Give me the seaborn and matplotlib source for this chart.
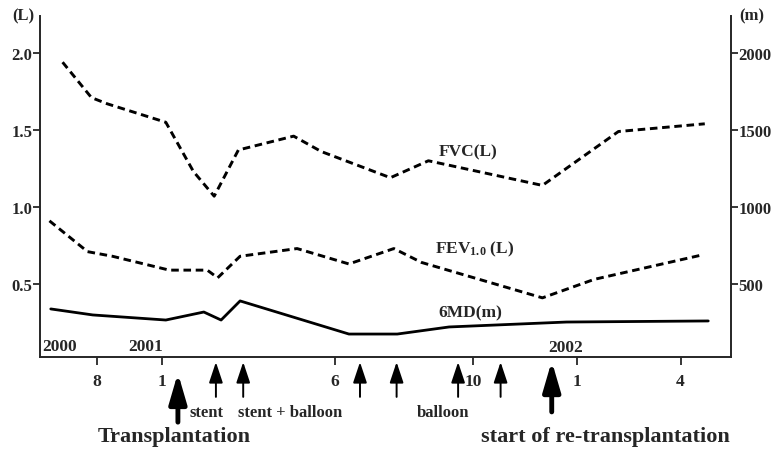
import numpy as np
import seaborn as sns
import matplotlib.pyplot as plt

# x values are months counted from January 2001 (negative = 2000)
fvc_month = [-7.6, -5.4, -4.2, 0.1, 0.9, 1.5, 2.2, 3.8, 4.6, 6.6, 7.7, 11.0, 13.2, 15.7]
fvc_l = [1.94, 1.71, 1.67, 1.55, 1.23, 1.07, 1.37, 1.46, 1.36, 1.19, 1.30, 1.14, 1.49, 1.54]

fev_month = [-8.6, -5.7, -3.8, 0.2, 1.3, 1.6, 2.25, 3.9, 5.4, 6.7, 7.5, 11.0, 12.5, 15.65]
fev_l = [0.91, 0.71, 0.68, 0.59, 0.59, 0.54, 0.68, 0.73, 0.63, 0.73, 0.64, 0.41, 0.53, 0.69]

smd_month = [-8.5, -5.3, 0.1, 1.2, 1.7, 2.25, 5.4, 6.8, 8.3, 11.7, 15.8]
smd_m = [338, 299, 266, 318, 266, 390, 175, 175, 221, 253, 260]

tick_month = [-5, 0, 5, 9, 12, 15]
tick_text = ['8', '1', '6', '10', '1', '4']

thin_arrow_month = [1.55, 2.34, 5.72, 6.78, 8.56, 9.79]
thick_arrow_month = [0.45, 11.27]

sns.set_style('ticks')
plt.rcParams['font.family'] = ['Liberation Serif', 'DejaVu Serif']
plt.rcParams['font.weight'] = 'bold'
plt.rcParams['mathtext.fontset'] = 'custom'
plt.rcParams['mathtext.rm'] = 'Liberation Serif:bold'
plt.rcParams['mathtext.it'] = 'Liberation Serif:bold'
plt.rcParams['mathtext.bf'] = 'Liberation Serif:bold'

W, H = 774, 452


def fx(x):
    return x / W


def fy(y):
    return 1 - y / H


# 2000 part of the time axis is drawn compressed
def fwd(m):
    m = np.asarray(m, dtype=float)
    return np.where(m < 0, m * 0.38, m)


def inv(v):
    v = np.asarray(v, dtype=float)
    return np.where(v < 0, v / 0.38, v)


fig = plt.figure(figsize=(W / 100, H / 100), dpi=100)
ax = fig.add_axes([fx(40), fy(358.3), fx(730.7) - fx(40), fy(17) - fy(358.3)])
ax.set_xscale('function', functions=(fwd, inv))
ax2 = ax.twinx()

dash = (0, (2.6, 1.6))
sns.lineplot(x=fvc_month, y=fvc_l, color='black', linewidth=2.1, linestyle=dash, ax=ax)
sns.lineplot(x=fev_month, y=fev_l, color='black', linewidth=2.1, linestyle=dash, ax=ax)
sns.lineplot(x=smd_month, y=smd_m, color='black', linewidth=2.0, ax=ax2)

ax.set_xlim(-9.32, 16.45)
ax.set_ylim(0.024, 2.24)
ax2.set_ylim(24, 2240)

ax.set_xticks(tick_month)
ax.set_xticklabels(tick_text)
ax.set_yticks([0.5, 1.0, 1.5, 2.0])
ax.set_yticklabels(['0.5', '1.0', '1.5', '2.0'])
ax2.set_yticks([500, 1000, 1500, 2000])
ax.xaxis.set_minor_locator(plt.NullLocator())

for a in (ax, ax2):
    a.spines['top'].set_visible(False)
    for s in a.spines.values():
        s.set_linewidth(1.4)
    a.set_xlabel('')
    a.set_ylabel('')
ax.spines['right'].set_visible(False)
ax2.spines['left'].set_visible(False)
ax2.spines['bottom'].set_visible(False)

ax.tick_params(axis='x', direction='out', length=6, width=1.3, pad=5, labelsize=12.5)
ax.tick_params(axis='y', direction='out', length=5, width=1.3, pad=0.5, labelsize=12)
ax2.tick_params(axis='y', direction='out', length=5, width=1.3, pad=0.5, labelsize=12)

# event arrows under the time axis
tr = ax.get_xaxis_transform()
for m in thin_arrow_month:
    ax.annotate('', xy=(m, -0.014), xytext=(m, -0.116), xycoords=tr, textcoords=tr,
                annotation_clip=False,
                arrowprops=dict(arrowstyle='-|>,head_length=0.9,head_width=0.3', lw=1.4,
                                color='black', mutation_scale=14, shrinkA=0, shrinkB=0))
ax.annotate('', xy=(thick_arrow_month[0], -0.046), xytext=(thick_arrow_month[0], -0.19),
            xycoords=tr, textcoords=tr, annotation_clip=False,
            arrowprops=dict(arrowstyle='-|>,head_length=1.2,head_width=0.35', lw=3.5,
                            color='black', mutation_scale=15, shrinkA=0, shrinkB=0))
ax.annotate('', xy=(thick_arrow_month[1], -0.011), xytext=(thick_arrow_month[1], -0.16),
            xycoords=tr, textcoords=tr, annotation_clip=False,
            arrowprops=dict(arrowstyle='-|>,head_length=1.2,head_width=0.35', lw=3.5,
                            color='black', mutation_scale=15, shrinkA=0, shrinkB=0))

# texts
fig.text(fx(23), fy(16), '(L)', ha='center', va='center', fontsize=12)
fig.text(fx(752), fy(16), '(m)', ha='center', va='center', fontsize=12)
fig.text(fx(468), fy(152), 'FVC(L)', ha='center', va='center', fontsize=12.5)
fig.text(fx(475), fy(249), r'FEV$_{\mathrm{1.0}}$ (L)', ha='center', va='center', fontsize=12.5)
fig.text(fx(470), fy(313), '6MD(m)', ha='center', va='center', fontsize=12.5)
fig.text(fx(42), fy(347), '2000', ha='left', va='center', fontsize=12.5)
fig.text(fx(146), fy(347), '2001', ha='center', va='center', fontsize=12.5)
fig.text(fx(566), fy(348), '2002', ha='center', va='center', fontsize=12.5)
fig.text(fx(206), fy(413), 'stent', ha='center', va='center', fontsize=12)
fig.text(fx(290), fy(413), 'stent + balloon', ha='center', va='center', fontsize=12)
fig.text(fx(443), fy(413), 'balloon', ha='center', va='center', fontsize=12)
fig.text(fx(174.5), fy(437), 'Transplantation', ha='center', va='center', fontsize=16)
fig.text(fx(605), fy(437), 'start of re-transplantation', ha='center', va='center', fontsize=16)

fig.savefig('out.png', dpi=100)
